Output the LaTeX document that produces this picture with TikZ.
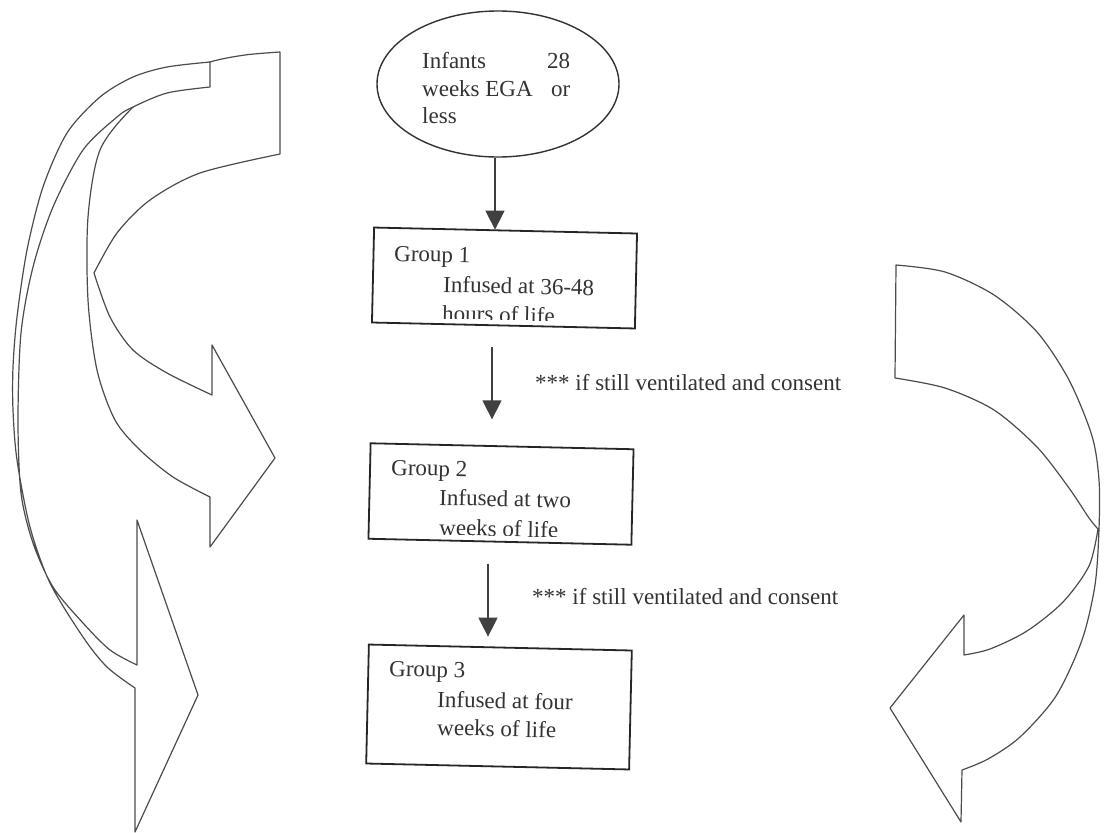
\documentclass[tikz,border=0pt]{standalone}
\usepackage{fontspec}
\setmainfont{Liberation Serif}
\usetikzlibrary{shapes.geometric,arrows.meta,calc}
\begin{document}
\begin{tikzpicture}[x=1pt,y=-1pt,
  txt/.style={anchor=base west,inner sep=0pt,font=\fontsize{23}{28}\selectfont,text=black!80},
  boxtxt/.style={txt,rotate=-1.3},
  grp/.style={draw=black!85,line width=1.8pt,rectangle,minimum width=263pt,inner sep=0pt,rotate=-1.3},
  flow/.style={draw=black!75,line width=1.4pt,-{Triangle[width=19pt,length=19pt]}},
  band/.style={draw=black!70,line width=1.2pt,fill=white,line join=round}
]
\fill[white] (0,0) rectangle (1104,833);
\useasboundingbox (0,0) rectangle (1104,833);

% left curved arrows (back one first)
\path[band] (280,52) -- plot[smooth] coordinates {(280,52) (245,55) (210,62) (170,78) (133,107) (100,150) (88,217) (88,300) (97,370) (115,420) (140,450) (173,477) (210,497)}
  -- (210,547) -- (275,458) -- (212,345) -- (212,395)
  -- plot[smooth] coordinates {(212,395) (167,373) (133,350) (110,317) (94,273)}
  -- plot[smooth] coordinates {(94,273) (117,233) (150,200) (200,173) (280,154)} -- cycle;
\path[band] (210,62) -- (210,87)
  -- plot[smooth] coordinates {(210,87) (167,93) (133,107) (117,117) (83,150) (53,207) (33,267) (21,333) (18,420) (21,493) (33,543) (53,587) (83,623) (110,650) (137,665)}
  -- (137,520) -- (198,695) -- (135,832) -- (135,688)
  -- plot[smooth] coordinates {(135,688) (107,667) (83,637) (50,583) (30,527) (17,460) (13,410) (13,367) (17,317) (27,250) (43,187) (67,133) (100,97) (133,77) (167,67) (210,62)} -- cycle;

% right curved arrow
\path[band] (896,265)
  -- plot[smooth] coordinates {(896,265) (945,272) (994,295) (1037,332) (1069,380) (1092,436) (1099,480) (1099,529) (1095,585) (1082,640) (1056,696) (1020,737) (988,759) (962,770)}
  -- (961,822) -- (890,708) -- (964,615) -- (964,655)
  -- plot[smooth] coordinates {(964,655) (990,649) (1027,631) (1063,602) (1089,566) (1098,529)}
  -- plot[smooth] coordinates {(1098,529) (1089,518) (1069,488) (1037,447) (994,410) (945,388) (895,378)} -- cycle;

% flow chart
\node[ellipse,draw=black!80,line width=1.4pt,minimum width=242pt,minimum height=146pt,inner sep=0pt] (start) at (498,84) {};
\node[txt] (t1) at (422,68) {Infants};
\node[txt] (t2) at (547,68) {28};
\node[txt] (t3) at (422,96) {weeks EGA};
\node[txt] (t4) at (551,96) {or};
\node[txt] (t5) at (422,123) {less};

\node[grp,minimum height=95pt] (g1) at (504.5,278) {};
\node[grp,minimum height=95.5pt] (g2) at (501,494) {};
\node[grp,minimum height=119pt] (g3) at (499,707) {};

\begin{scope}
\clip (g1.north west) -- (g1.north east) -- ($(g1.south east)!7pt!(g1.north east)$) -- ($(g1.south west)!7pt!(g1.north west)$) -- cycle;
\node[boxtxt] (g1a) at (394,261) {Group 1};
\node[boxtxt] (g1b) at (443,292) {Infused at 36-48};
\node[boxtxt] (g1c) at (442,321) {hours of life};
\end{scope}
\begin{scope}
\clip (g2.north west) -- (g2.north east) -- ($(g2.south east)!7pt!(g2.north east)$) -- ($(g2.south west)!7pt!(g2.north west)$) -- cycle;
\node[boxtxt] (g2a) at (391,475) {Group 2};
\node[boxtxt] (g2b) at (439,505) {Infused at two};
\node[boxtxt] (g2c) at (439,535) {weeks of life};
\end{scope}
\node[boxtxt] (g3a) at (389,676) {Group 3};
\node[boxtxt] (g3b) at (437,707) {Infused at four};
\node[boxtxt] (g3c) at (437,735) {weeks of life};

\coordinate (ax1) at (495,0);
\coordinate (ax2) at (492,0);
\coordinate (ax3) at (488,0);
\draw[flow] (start.south -| ax1) -- (g1.north -| ax1);
\draw[flow,shorten <=21pt,shorten >=26pt] (g1.south -| ax2) -- (g2.north -| ax2);
\draw[flow,shorten <=21pt,shorten >=10pt] (g2.south -| ax3) -- (g3.north -| ax3);

\node[txt] (c1) at (535,390) {*** if still ventilated and consent};
\node[txt] (c2) at (532,604) {*** if still ventilated and consent};
\end{tikzpicture}
\end{document}
